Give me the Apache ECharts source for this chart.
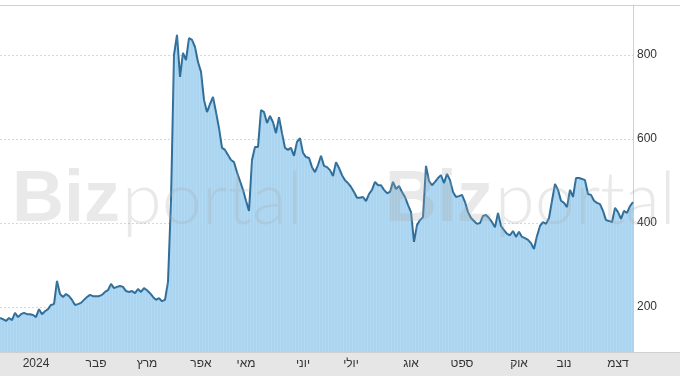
<!DOCTYPE html>
<html>
<head>
<meta charset="utf-8">
<script src="https://cdn.jsdelivr.net/npm/echarts@6/dist/echarts.min.js"></script>
<style>
html,body{margin:0;padding:0;background:#fff;}
#chart{width:680px;height:376px;}
</style>
</head>
<body>
<div id="chart"></div>
<script>
// Daily closing values (trading days, approx. Dec 2023 - Dec 2024)
const values = [
  174,171,167,174,169,186,176,183,186,183,
  183,181,176,195,183,190,195,205,207,262,
  231,224,231,226,217,205,207,210,217,224,
  229,226,226,226,229,236,240,255,245,248,
  250,248,238,236,238,233,243,236,245,240,
  233,224,217,221,214,217,260,453,800,848,
  748,805,788,840,836,819,783,760,693,664,
  683,700,664,626,579,574,562,550,545,521,
  500,479,453,429,550,581,581,669,664,638,
  655,640,614,652,614,579,574,579,560,593,
  602,567,557,555,533,521,538,560,536,533,
  526,512,545,531,514,502,495,486,474,460,
  460,462,452,469,479,498,490,490,479,471,
  474,498,481,488,474,462,443,426,355,395,
  407,414,536,500,490,498,507,514,495,517,
  502,474,462,464,467,450,426,412,405,398,
  400,417,419,412,402,390,424,393,383,374,
  371,381,367,379,367,364,360,352,338,369,
  393,402,398,412,453,493,479,453,448,438,
  479,462,507,507,505,502,469,467,453,448,
  445,429,407,405,402,436,426,410,429,424,
  440,450
];
// Month tick labels and the trading-day index where each is drawn
const monthLabels = ['2024','פבר','מרץ','אפר','מאי','יוני','יולי','אוג','ספט','אוק','נוב','דצמ'];
const monthIdx = [12, 32, 49, 67, 82, 101, 117, 137, 154, 173, 188, 206];
const yTicks = [200, 400, 600, 800];

const days = values.map((_, i) => String(i));

const chart = echarts.init(document.getElementById('chart'), null, {renderer: 'canvas'});
const labelFont = 'Arial, "Liberation Sans", "DejaVu Sans", sans-serif';
const wmColor = 'rgba(170,170,170,0.26)';

chart.setOption({
  animation: false,
  backgroundColor: '#ffffff',
  grid: {left: 0, right: 47, top: 5, bottom: 24, containLabel: false},
  xAxis: {
    type: 'category',
    data: days,
    boundaryGap: false,
    axisLine: {show: false},
    axisTick: {show: false},
    splitLine: {show: false},
    axisLabel: {
      interval: function (index) { return monthIdx.indexOf(index) >= 0; },
      formatter: function (value, index) {
        const k = monthIdx.indexOf(Number(value));
        return k >= 0 ? monthLabels[k] : '';
      },
      color: '#333',
      fontSize: 12,
      fontFamily: labelFont,
      margin: 6
    }
  },
  yAxis: {
    type: 'value',
    position: 'right',
    min: 93,
    max: 919,
    axisLine: {show: true, lineStyle: {color: '#d0d0d0', width: 1}},
    axisTick: {show: false, customValues: yTicks},
    axisLabel: {
      customValues: yTicks,
      color: '#333',
      fontSize: 12,
      fontFamily: labelFont,
      margin: 4
    },
    splitLine: {show: true, lineStyle: {color: '#d8d8d8', type: [2, 2], width: 1}}
  },
  graphic: [
    {type: 'rect', z: -10, silent: true, shape: {x: 0, y: 352, width: 680, height: 24}, style: {fill: '#e6e6e6'}},
    {type: 'line', z: -9, silent: true, shape: {x1: 0, y1: 352.5, x2: 680, y2: 352.5}, style: {stroke: '#cfcfcf', lineWidth: 1}},
    {type: 'line', z: -9, silent: true, shape: {x1: 0, y1: 5.5, x2: 680, y2: 5.5}, style: {stroke: '#d0d0d0', lineWidth: 1}},
    {type: 'text', z: 100, silent: true, left: 12, top: 165,
      style: {text: 'Biz', font: 'bold 72px Arial, "Liberation Sans", sans-serif', fill: wmColor}},
    {type: 'text', z: 100, silent: true, left: 122, top: 165,
      style: {text: 'portal', font: '300 72px Lato, Arial, sans-serif', fill: wmColor}},
    {type: 'text', z: 100, silent: true, left: 385, top: 165,
      style: {text: 'Biz', font: 'bold 72px Arial, "Liberation Sans", sans-serif', fill: wmColor}},
    {type: 'text', z: 100, silent: true, left: 495, top: 165,
      style: {text: 'portal', font: '300 72px Lato, Arial, sans-serif', fill: wmColor}}
  ],
  series: [
    {
      type: 'line',
      data: values,
      symbol: 'none',
      smooth: false,
      z: 3,
      lineStyle: {color: '#2f6d99', width: 2},
      areaStyle: {color: '#b2daf3', opacity: 1, origin: 'start'}
    },
    {
      type: 'bar',
      data: values,
      barWidth: 1,
      silent: true,
      z: 4,
      itemStyle: {color: 'rgba(120,175,215,0.25)'}
    }
  ]
});
</script>
</body>
</html>
